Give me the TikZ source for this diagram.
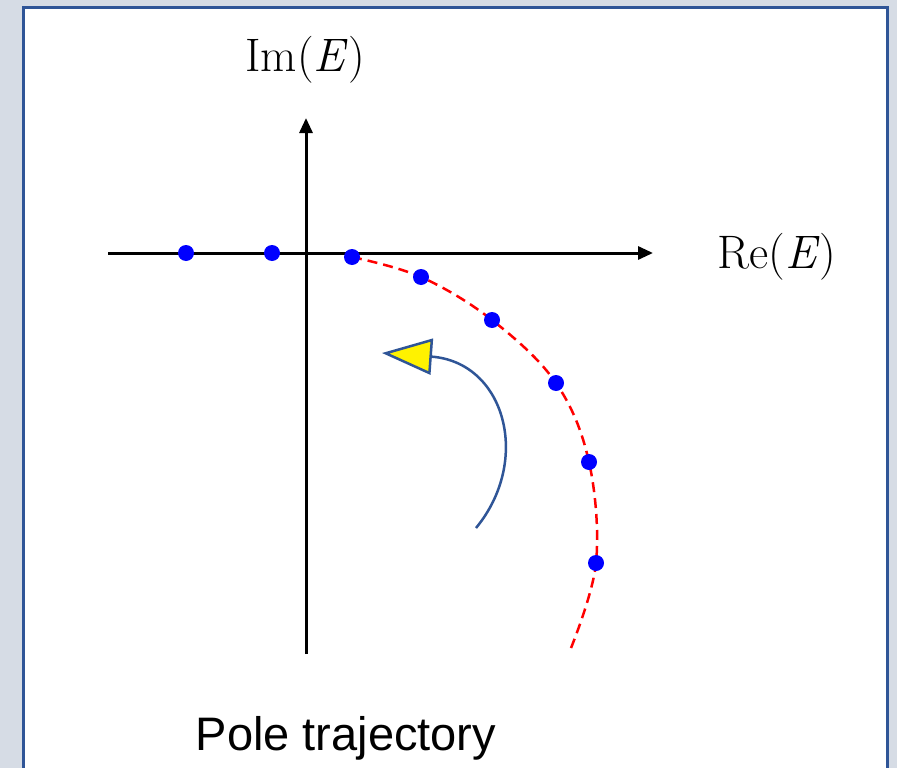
\documentclass[tikz,border=0pt]{standalone}
\usepackage{fontspec}
\setsansfont{Liberation Sans}
\usetikzlibrary{arrows.meta,positioning}
\definecolor{panelbg}{HTML}{D6DCE5}
\definecolor{frameblue}{HTML}{2F5597}

\begin{document}
\begin{tikzpicture}[x=1pt, y=-1pt, dot/.style={circle, fill=blue, inner sep=0pt, minimum size=16pt}, axis/.style={line width=3pt, -{Triangle[length=15pt, width=13pt]}}, lbl/.style={font=\fontsize{47}{54}\selectfont}]
\useasboundingbox[fill=panelbg] (0,0) rectangle (897,768);
\fill[white] (23,8) rectangle (887,768);
\draw[frameblue, line width=3pt] (23,768) -- (23,8) -- (887,8) -- (887,768);
% axes
\coordinate (xl) at (108,253); \coordinate (xr) at (653,253);
\coordinate (yb) at (306,654); \coordinate (yt) at (306,118);
\draw[axis] (xl) -- (xr); \draw[axis] (yb) -- (yt);
\node[lbl] (re) at (777,257) {Re(\textit{E\/})};
\node[lbl] (im) at (305,60) {Im(\textit{E\/})};
% poles
\foreach \n/\x/\y in {p1/186/253, p2/272/253, p3/352/257, p4/421/277, p5/492/320, p6/556/383, p7/589/462, p8/596/563} \coordinate (\n) at (\x,\y);
\coordinate (tend) at (571,648);
\draw[red, line width=2.5pt, dash pattern=on 10pt off 6pt] plot[smooth, tension=0.6] coordinates {(p3) (p4) (p5) (p6) (p7) (p8) (tend)};
\foreach \n in {p1,p2,p3,p4,p5,p6,p7,p8} \node[dot] (d\n) at (\n) {};
% direction of motion
\coordinate (swirl) at (476,528); \coordinate (tipp) at (382,353);
\draw[frameblue, line width=2.5pt, -{Triangle[length=50pt, width=36pt, fill=yellow, line width=2.5pt]}] (swirl) .. controls (532,460) and (505,362) .. (tipp);
\node[font=\sffamily\fontsize{47}{56}\selectfont] (cap) at (346,738) {Pole trajectory};
\end{tikzpicture}
\end{document}
